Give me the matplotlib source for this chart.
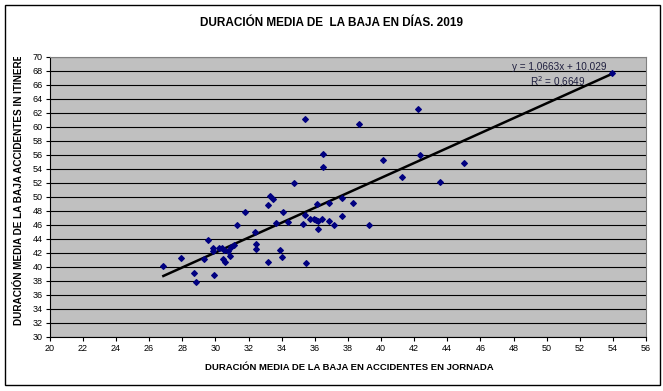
import matplotlib.pyplot as plt
import numpy as np
from matplotlib.patches import Rectangle
from matplotlib.transforms import Bbox

# duracion media de la baja (dias), jornada vs in itinere
jornada = [26.86, 27.95, 28.70, 28.85, 29.30, 29.58, 29.86, 29.86, 29.94, 30.24,
           30.39, 30.43, 30.55, 30.60, 30.75, 30.89, 30.95, 31.13, 31.33, 31.79,
           32.38, 32.48, 32.48, 33.20, 33.20, 33.32, 33.50, 33.65, 33.93, 34.00,
           34.10, 34.37, 34.73, 35.28, 35.42, 35.42, 35.46, 35.74, 35.96, 36.08,
           36.14, 36.18, 36.22, 36.46, 36.50, 36.50, 36.83, 36.87, 37.19, 37.65,
           37.67, 38.32, 38.68, 39.30, 40.13, 41.26, 42.26, 42.34, 43.53, 44.98,
           53.93]
itinere = [40.14, 41.20, 39.06, 37.77, 41.06, 43.81, 42.60, 42.30, 38.81, 42.60,
           42.70, 41.06, 42.40, 40.60, 42.30, 41.48, 42.80, 43.10, 46.00, 47.77,
           44.91, 43.20, 42.50, 48.86, 40.60, 50.06, 49.63, 46.20, 42.34, 41.34,
           47.86, 46.39, 52.00, 46.10, 47.39, 61.06, 40.57, 46.80, 46.80, 46.67,
           48.91, 45.34, 46.53, 46.77, 56.14, 54.20, 49.06, 46.57, 46.00, 49.77,
           47.20, 49.06, 60.34, 46.00, 55.29, 52.80, 62.57, 55.90, 52.06, 54.86,
           67.71]

# linea de tendencia (Excel)
pendiente = 1.0663
ordenada = 10.029

xticks = np.arange(20, 57, 2)
yticks = np.arange(30, 71, 2)

plt.rcParams['font.family'] = ['Liberation Sans', 'DejaVu Sans']

fig = plt.figure(figsize=(6.63, 3.91), dpi=100)
fig.patch.set_facecolor('white')
fig.patches.append(Rectangle((5 / 663, 1 - 385 / 391), 655 / 663, 380 / 391,
                             transform=fig.transFigure, fill=False,
                             edgecolor='black', linewidth=1.0))

ax = fig.add_axes([0.075, 0.139, 0.8995, 0.716])
ax.set_facecolor('#C0C0C0')
ax.set_xlim(20, 56)
ax.set_ylim(30, 70)
ax.set_xticks(xticks)
ax.set_yticks(yticks)
ax.tick_params(labelsize=6.5, length=3, width=0.8, pad=2, direction='out')
ax.yaxis.grid(True, color='black', linewidth=0.8)
ax.set_axisbelow(True)
for s in ['top', 'right']:
    ax.spines[s].set_color('#808080')
ax.spines['left'].set_linewidth(0.8)
ax.spines['bottom'].set_linewidth(0.8)

ax.scatter(jornada, itinere, marker='D', s=8, color='#000080', zorder=3)

xl = np.array([min(jornada), max(jornada)])
ax.plot(xl, pendiente * xl + ordenada, color='black', linewidth=1.8, zorder=2)

ax.text(53.6, 68.5, 'y = 1,0663x + 10,029', fontsize=7.2, color='#202040',
        ha='right', va='center')
ax.text(52.35, 66.4, 'R$^2$ = 0,6649', fontsize=7.2, color='#202040',
        ha='right', va='center')

fig.text(331 / 663, 1 - 23 / 391, 'DURACIÓN MEDIA DE  LA BAJA EN DÍAS. 2019',
         fontsize=8.5, fontweight='bold', ha='center', va='center')
fig.text(349 / 663, 1 - 368 / 391,
         'DURACIÓN MEDIA DE LA BAJA EN ACCIDENTES EN JORNADA',
         fontsize=6.8, fontweight='bold', ha='center', va='center')
yl = fig.text(19 / 663, 1 - 325 / 391,
              'DURACIÓN MEDIA DE LA BAJA ACCIDENTES IN ITINERE',
              fontsize=7.2, fontweight='bold', ha='center', va='bottom',
              rotation=90)
yl.set_clip_box(Bbox.from_extents(0, 0, 663, 391 - 57))
yl.set_clip_on(True)

plt.savefig('out.png', dpi=100)
